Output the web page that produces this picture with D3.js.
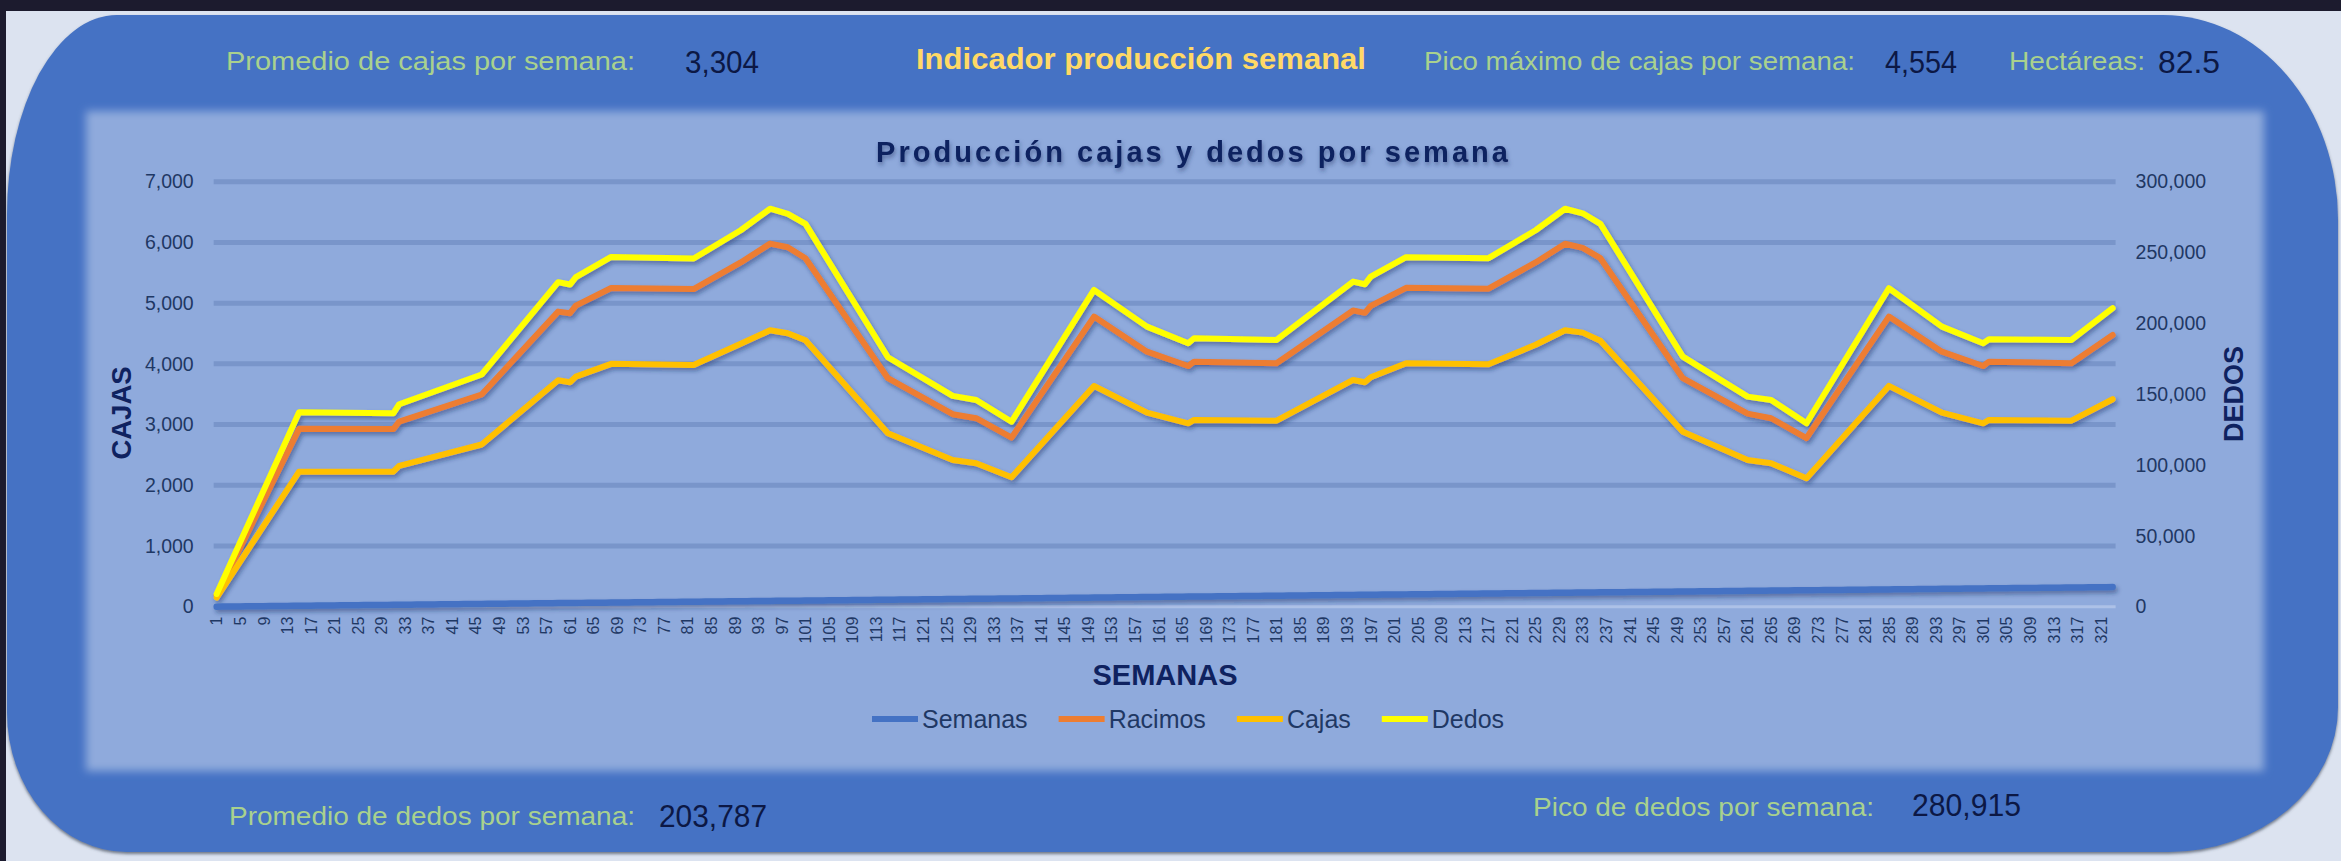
<!DOCTYPE html>
<html>
<head>
<meta charset="utf-8">
<script src="https://cdn.jsdelivr.net/npm/d3@7"></script>
<style>
  body { margin: 0; background: #dce3f0; overflow: hidden; }
  text { font-family: "Liberation Sans", Arial, sans-serif; }
</style>
</head>
<body>
<div id="chart"></div>
<script>
/*
*   Indicador produccion semanal - cajas, racimos y dedos por semana
*/

// categorias del eje X: semana 1..323
const semanas = d3.range(1, 324)

// semanas donde cambia la pendiente de las curvas (vertices)
const puntosSemana = [1, 15, 31, 32, 46, 59, 61, 62, 68, 82, 90, 95, 98, 101, 115, 126, 130, 136, 150, 159,
  166, 167, 181, 194, 196, 197, 203, 217, 225, 230, 233, 236, 250, 261, 265, 271, 285, 294, 301, 302, 316, 323]

const racimos = [190, 2930, 2925, 3048, 3495, 4860, 4833, 4959, 5250, 5232, 5670, 5980, 5921, 5740, 3763, 3170,
  3104, 2784, 4778, 4201, 3965, 4036, 4010, 4880, 4840, 4955, 5252, 5238, 5670, 5978, 5910, 5740, 3763, 3180,
  3104, 2778, 4778, 4201, 3965, 4036, 4010, 4476]

const cajas = [150, 2224, 2224, 2320, 2672, 3729, 3697, 3789, 4000, 3980, 4330, 4554, 4504, 4388, 2857, 2417,
  2362, 2132, 3636, 3196, 3021, 3076, 3064, 3735, 3697, 3779, 4010, 3993, 4315, 4554, 4514, 4382, 2883, 2417,
  2362, 2115, 3636, 3196, 3021, 3076, 3064, 3417]

const dedos = [9000, 137200, 136500, 142900, 163900, 229100, 227400, 232600, 246900, 245800, 265700, 280915,
  277300, 270200, 176100, 148800, 145900, 130600, 223600, 197700, 186000, 189500, 188300, 229500, 227600,
  233000, 246700, 246000, 265700, 280900, 277700, 270200, 176500, 148300, 145900, 129500, 224800, 197700,
  186000, 188800, 188300, 210700]

const ticksCajas = [0, 1000, 2000, 3000, 4000, 5000, 6000, 7000]
const ticksDedos = [0, 50000, 100000, 150000, 200000, 250000, 300000]

const nombresSeries = ["Semanas", "Racimos", "Cajas", "Dedos"]
const colores = ["#4472c4", "#ed7d31", "#ffc000", "#ffff00"]

// indicadores
const promedioCajas = 3304
const picoCajas = 4554
const hectareas = 82.5
const promedioDedos = 203787
const picoDedos = 280915

let WD = 2341, HT = 861
let plot = { left: 213.7, right: 2115.6, top: 181.7, bottom: 606.7 }
let fmt = d3.format(",")

var svg = d3.select("#chart").append("svg")
    .attr("width", WD)
    .attr("height", HT)

var defs = svg.append("defs")

defs.append("filter").attr("id", "sombra")
    .attr("filterUnits", "userSpaceOnUse")
    .attr("x", 0).attr("y", 0).attr("width", WD).attr("height", HT)
  .append("feDropShadow")
    .attr("dx", 2).attr("dy", 3).attr("stdDeviation", 2)
    .attr("flood-color", "#1c2f63").attr("flood-opacity", 0.45)

defs.append("filter").attr("id", "sombraTexto")
    .attr("filterUnits", "userSpaceOnUse")
    .attr("x", 0).attr("y", 0).attr("width", WD).attr("height", HT)
  .append("feDropShadow")
    .attr("dx", 1).attr("dy", 3).attr("stdDeviation", 2)
    .attr("flood-color", "#1c2f63").attr("flood-opacity", 0.5)

defs.append("filter").attr("id", "borde")
    .attr("x", "-2%").attr("y", "-3%").attr("width", "104%").attr("height", "106%")
  .append("feGaussianBlur").attr("stdDeviation", 4)

defs.append("filter").attr("id", "sombraMarco")
    .attr("filterUnits", "userSpaceOnUse")
    .attr("x", 0).attr("y", 0).attr("width", WD).attr("height", HT)
  .append("feDropShadow")
    .attr("dx", 0).attr("dy", 2).attr("stdDeviation", 1.5)
    .attr("flood-color", "#404858").attr("flood-opacity", 0.7)

// bordes oscuros de la ventana
svg.append("rect").attr("x", 0).attr("y", 0).attr("width", WD).attr("height", 11).attr("fill", "#1c1b2e")
svg.append("rect").attr("x", 0).attr("y", 0).attr("width", 6).attr("height", HT).attr("fill", "#1c1b2e")

// marco azul con esquinas redondeadas (elipticas)
function marco(x0, y0, x1, y1, tl, tr, br, bl) {
  return "M" + (x0 + tl[0]) + "," + y0 +
    " H" + (x1 - tr[0]) +
    " A" + tr[0] + "," + tr[1] + " 0 0 1 " + x1 + "," + (y0 + tr[1]) +
    " V" + (y1 - br[1]) +
    " A" + br[0] + "," + br[1] + " 0 0 1 " + (x1 - br[0]) + "," + y1 +
    " H" + (x0 + bl[0]) +
    " A" + bl[0] + "," + bl[1] + " 0 0 1 " + x0 + "," + (y1 - bl[1]) +
    " V" + (y0 + tl[1]) +
    " A" + tl[0] + "," + tl[1] + " 0 0 1 " + (x0 + tl[0]) + "," + y0 + " Z"
}

svg.append("path")
    .attr("d", marco(7, 15, 2338, 852, [110, 200], [175, 205], [170, 145], [120, 140]))
    .attr("fill", "#4472c4")
    .attr("filter", "url(#sombraMarco)")

// panel claro del grafico
svg.append("rect")
    .attr("x", 86).attr("y", 111).attr("width", 2178).attr("height", 660)
    .attr("fill", "#8faadc")
    .attr("filter", "url(#borde)")

// escalas
var x = d3.scaleBand().domain(semanas).range([plot.left, plot.right])
var cx = function(w) { return x(w) + x.bandwidth() / 2 }
var yL = d3.scaleLinear().domain([0, 7000]).range([plot.bottom, plot.top])
var yR = d3.scaleLinear().domain([0, 300000]).range([plot.bottom, plot.top])

// lineas de division
svg.append("g").selectAll("line")
  .data(ticksCajas.filter(d => d > 0))
  .enter().append("line")
    .attr("x1", plot.left).attr("x2", plot.right)
    .attr("y1", d => yL(d)).attr("y2", d => yL(d))
    .attr("stroke", "#7995ca")
    .attr("stroke-width", 5)

svg.append("line")
    .attr("x1", plot.left).attr("x2", plot.right)
    .attr("y1", yL(0)).attr("y2", yL(0))
    .attr("stroke", "#adc1e7")
    .attr("stroke-width", 3)

// ejes
var ejeIzq = svg.append("g")
    .attr("transform", "translate(" + plot.left + ",0)")
    .call(d3.axisLeft(yL).tickValues(ticksCajas).tickFormat(fmt).tickSize(0).tickPadding(20))
var ejeDer = svg.append("g")
    .attr("transform", "translate(" + plot.right + ",0)")
    .call(d3.axisRight(yR).tickValues(ticksDedos).tickFormat(fmt).tickSize(0).tickPadding(20))

;[ejeIzq, ejeDer].forEach(function(g) {
  g.select(".domain").remove()
  g.attr("font-family", null).attr("font-size", null)
  g.selectAll("text")
    .attr("font-family", "Liberation Sans, Arial, sans-serif")
    .attr("font-size", 19.5)
    .attr("fill", "#1f3864")
})

var ejeX = svg.append("g")
    .attr("transform", "translate(0," + plot.bottom + ")")
    .call(d3.axisBottom(x).tickValues(semanas.filter((d, i) => i % 4 === 0)).tickSize(0))
ejeX.select(".domain").remove()
ejeX.attr("font-family", null).attr("font-size", null)
ejeX.selectAll("text")
    .attr("font-family", "DejaVu Sans, sans-serif")
    .attr("font-size", 16)
    .attr("fill", "#1f3864")
    .attr("transform", "rotate(-90)")
    .attr("text-anchor", "end")
    .attr("x", -10)
    .attr("y", 0)
    .attr("dy", "0.36em")

// series
var lineaSem = d3.line().x(d => cx(d)).y(d => yL(d))
var lineaIzq = d3.line().x((d, i) => cx(puntosSemana[i])).y(d => yL(d))
var lineaDer = d3.line().x((d, i) => cx(puntosSemana[i])).y(d => yR(d))

var gs = svg.append("g").attr("filter", "url(#sombra)")
    .attr("fill", "none")
    .attr("stroke-linejoin", "round")
    .attr("stroke-linecap", "round")

gs.append("path").attr("d", lineaSem(semanas)).attr("stroke", colores[0]).attr("stroke-width", 6.5)
gs.append("path").attr("d", lineaIzq(racimos)).attr("stroke", colores[1]).attr("stroke-width", 6)
gs.append("path").attr("d", lineaIzq(cajas)).attr("stroke", colores[2]).attr("stroke-width", 6)
gs.append("path").attr("d", lineaDer(dedos)).attr("stroke", colores[3]).attr("stroke-width", 6)

// textos
function texto(s, xp, yp, size, color, weight, ancho, ajuste) {
  var t = svg.append("text")
      .attr("x", xp).attr("y", yp)
      .attr("font-size", size)
      .attr("fill", color)
      .attr("font-weight", weight || "normal")
      .text(s)
  if (ancho) t.attr("textLength", ancho).attr("lengthAdjust", ajuste || "spacingAndGlyphs")
  return t
}

var verde = "#a9d18e", azulOsc = "#0c1845", azulTit = "#0f2260"

texto("Promedio de cajas por semana:", 226, 70, 25, verde, null, 409)
texto(fmt(promedioCajas), 685, 73, 31, azulOsc, null, 74)
texto("Indicador producción semanal", 916, 69, 30, "#ffd966", "bold", 450)
texto("Pico máximo de cajas por semana:", 1424, 70, 25, verde, null, 431)
texto(fmt(picoCajas), 1885, 73, 31, azulOsc, null, 72)
texto("Hectáreas:", 2009, 70, 25, verde, null, 136)
texto(String(hectareas), 2158, 73, 31, azulOsc, null, 62)

texto("Promedio de dedos por semana:", 229, 825, 25, verde, null, 406)
texto(fmt(promedioDedos), 659, 827, 32, azulOsc, null, 108)
texto("Pico de dedos por semana:", 1533, 816, 25, verde, null, 341)
texto(fmt(picoDedos), 1912, 816, 32, azulOsc, null, 109)

texto("Producción cajas y dedos por semana", 876, 162, 29, azulTit, "bold", 632, "spacing")
  .attr("filter", "url(#sombraTexto)")

texto("SEMANAS", 1165, 685, 29, azulTit, "bold").attr("text-anchor", "middle")
svg.append("text")
    .attr("transform", "translate(131,413) rotate(-90)")
    .attr("text-anchor", "middle")
    .attr("font-size", 27.5).attr("font-weight", "bold")
    .attr("fill", azulTit)
    .text("CAJAS")
svg.append("text")
    .attr("transform", "translate(2243,394) rotate(-90)")
    .attr("text-anchor", "middle")
    .attr("font-size", 27)
    .attr("font-weight", "bold")
    .attr("fill", azulTit)
    .text("DEDOS")

// leyenda
var ley = svg.append("g").attr("transform", "translate(872,719)")
var xpos = 0
nombresSeries.forEach(function(n, i) {
  ley.append("line")
      .attr("x1", xpos).attr("x2", xpos + 46)
      .attr("stroke", colores[i]).attr("stroke-width", 6)
  var t = ley.append("text")
      .attr("x", xpos + 50).attr("y", 9)
      .attr("font-size", 25)
      .attr("fill", "#1f3864")
      .text(n)
  xpos += 50 + t.node().getComputedTextLength() + 31
})
</script>
</body>
</html>
